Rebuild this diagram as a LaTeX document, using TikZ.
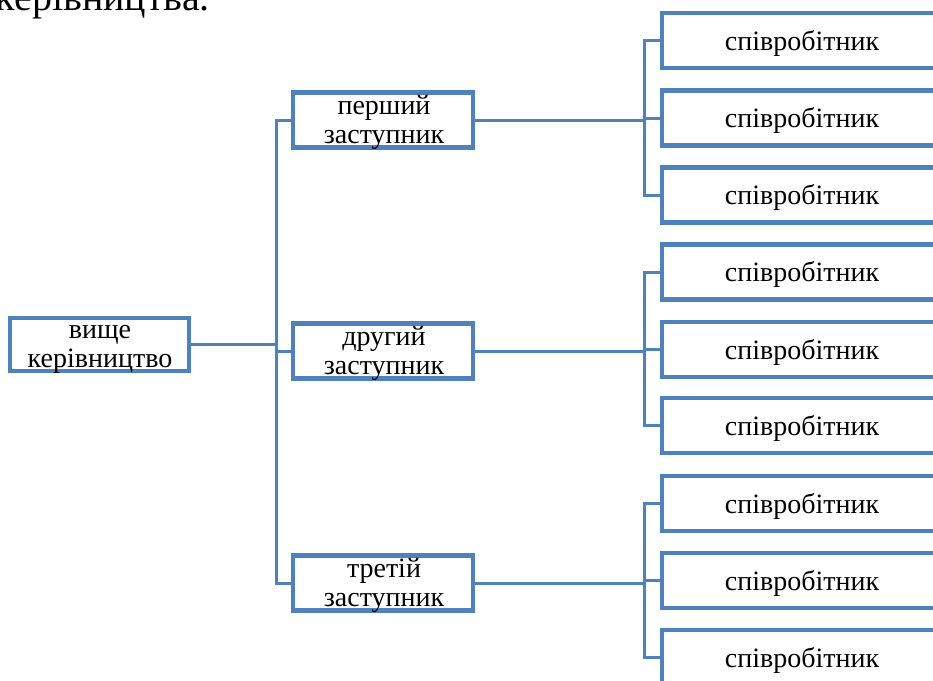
\documentclass[tikz,border=0pt]{standalone}
\usepackage{fontspec}
\setmainfont{Liberation Serif}
\definecolor{boxblue}{HTML}{4F81BD}
\begin{document}
\begin{tikzpicture}[x=1pt,y=-1pt,
  box/.style={draw=boxblue,line width=4.2pt,fill=white,rectangle,inner sep=0pt},
  headbox/.style={box,minimum width=179,minimum height=53},
  deputy/.style={box,minimum width=180,minimum height=55},
  staff/.style={box,minimum width=280,minimum height=55},
  txt/.style={anchor=base,inner sep=0pt,align=center,
    font=\fontsize{28}{28.5}\selectfont},
  link/.style={draw=boxblue,line width=3pt}]
\useasboundingbox (0,0) rectangle (933,680);
\clip (0,0) rectangle (933,680);
\fill[white] (0,0) rectangle (933,680);

% tail of the preceding paragraph
\node[anchor=base east,inner sep=0pt,font=\fontsize{40}{42}\selectfont] (prev) at (210,10) {керівництва.};

% top level (base anchor = baseline of the last line)
\node[headbox] (head) at (99.5,344.5) {};
\node[txt] (headt) at (100,367) {вище\\керівництво};

% deputies
\node[deputy] (d1) at (383,120) {};
\node[deputy] (d2) at (383,351) {};
\node[deputy] (d3) at (383,583) {};
\node[txt] (d1t) at (384,143) {перший\\заступник};
\node[txt] (d2t) at (384,374) {другий\\заступник};
\node[txt] (d3t) at (384,606) {третій\\заступник};

% staff
\foreach \g/\ya/\yb/\yc in {1/40.5/118/195, 2/272/349.5/425.5, 3/503.5/580.5/657.5}{
  \node[staff] (s\g a) at (802,\ya) {};
  \node[staff] (s\g b) at (802,\yb) {};
  \node[staff] (s\g c) at (802,\yc) {};
  \node[txt] (s\g at) at (802,\ya+9.5) {співробітник};
  \node[txt] (s\g bt) at (802,\yb+9.5) {співробітник};
  \node[txt] (s\g ct) at (802,\yc+9.5) {співробітник};
}

% branch points
\coordinate (hx) at (276,344);
\coordinate (j1) at (644,120);
\coordinate (j2) at (644,351);
\coordinate (j3) at (644,583);

% head to deputies
\draw[link] (head.east |- hx) -- (hx);
\draw[link] (d1.west) -| (hx) |- (d3.west);
\draw[link] (hx |- d2.west) -- (d2.west);

% deputies to staff
\foreach \g in {1,2,3}{
  \draw[link] (d\g.east) -- (j\g);
  \draw[link] (s\g a.west) -| (j\g |- s\g a.west) |- (s\g c.west);
  \draw[link] (j\g |- s\g b.west) -- (s\g b.west);
}
\end{tikzpicture}
\end{document}
